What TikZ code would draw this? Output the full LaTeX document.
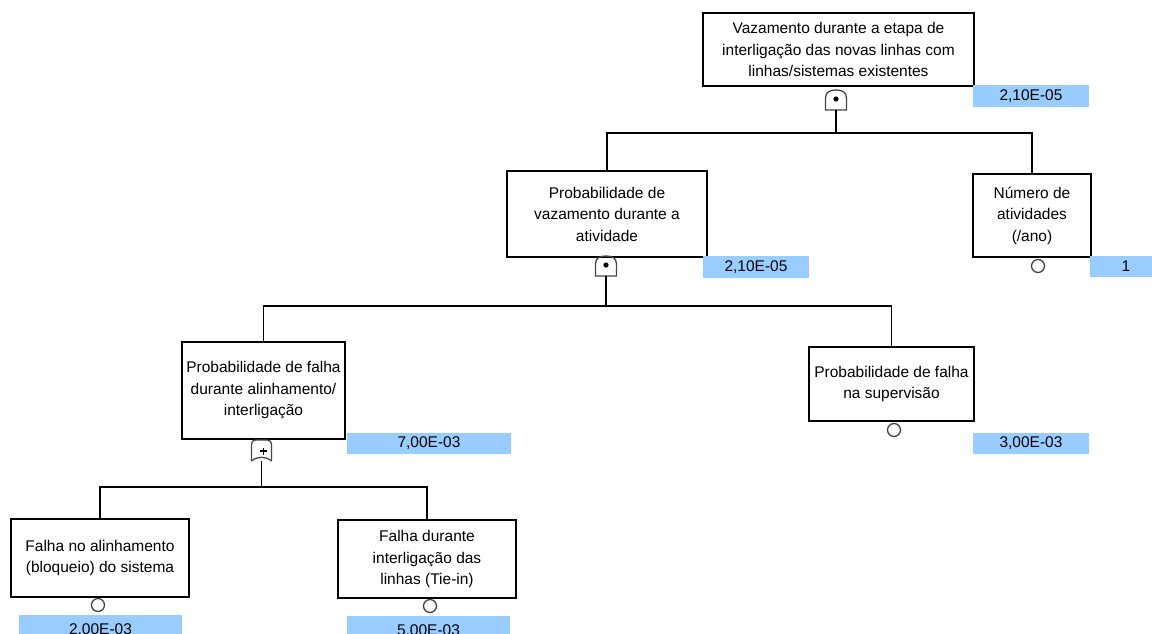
\documentclass[tikz,border=0pt]{standalone}
\usepackage{fontspec}
\setmainfont{Liberation Sans}
\definecolor{valblue}{RGB}{153,204,255}
\definecolor{gategray}{RGB}{70,70,70}
\tikzset{
  evt/.style={draw=black, line width=1.3pt, inner sep=0pt, align=center,
    font=\fontsize{15.5}{21.5}\selectfont},
  val/.style={fill=valblue, inner sep=0pt, font=\fontsize{15.5}{18}\selectfont},
  gatenode/.style={inner sep=0pt, minimum width=22, minimum height=20},
  basic/.style={circle, draw=gategray, line width=1.3pt, minimum size=13, inner sep=0pt},
  conn/.style={draw=black, line width=1.3pt},
  andgate/.pic={
    \draw[gategray, line width=1.3pt] (-10.5,10) -- (-10.5,-2)
      .. controls (-10.5,-8) and (-6,-10) .. (0,-10)
      .. controls (6,-10) and (10.5,-8) .. (10.5,-2) -- (10.5,10) -- cycle;
    \fill[black] (0,-1) circle (2.6);
  },
  orgate/.pic={
    \draw[gategray, line width=1.3pt, rounded corners=4] (10,11) -- (10,-10) -- (-10,-10) -- (-10,11);
    \draw[gategray, line width=1.3pt] (-10,11) .. controls (-4,6) and (4,6) .. (10,11);
    \draw[black, line width=1.2pt] (-1.5,1) -- (5.5,1) (2,-2.5) -- (2,4.5);
  }
}
\begin{document}
\begin{tikzpicture}[x=1pt,y=-1pt]
\useasboundingbox (0,0) rectangle (1152,633);
\clip (0,0) rectangle (1152,633);
\fill[white] (0,0) rectangle (1152,633);

% level 1
\node[evt, minimum width=271, minimum height=73] (T) at (838.5,49.5)
  {Vazamento durante a etapa de\\interligação das novas linhas com\\linhas/sistemas existentes};
\node[val, minimum width=116, minimum height=22] (VT) at (1031,96) {2,10E-05};
\node[gatenode] (g1) at (836,100) {};
\pic at (g1) {andgate};
\coordinate (bar1) at (0,133);

% level 2
\node[evt, minimum width=200, minimum height=86] (P) at (607,214)
  {Probabilidade de\\vazamento durante a\\atividade};
\node[gatenode] (g2) at (606,266) {};
\pic at (g2) {andgate};
\node[val, minimum width=106, minimum height=22] (VP) at (756,267) {2,10E-05};
\coordinate (bar2) at (0,306);

\node[evt, minimum width=118, minimum height=83] (N) at (1032,215.5)
  {Número de\\atividades\\(/ano)};
\node[basic] (cN) at (1038,266) {};
\node[val, minimum width=72, minimum height=21] (VN) at (1126,266.5) {1};

% level 3
\node[evt, minimum width=163, minimum height=97] (A) at (263.5,390.5)
  {Probabilidade de falha\\durante alinhamento/\\interligação};
\node[gatenode, minimum width=21, minimum height=22] (g3) at (261.5,450) {};
\pic at (g3) {orgate};
\node[val, minimum width=164, minimum height=21] (VA) at (429,443.5) {7,00E-03};
\coordinate (bar3) at (0,487);

\node[evt, minimum width=165, minimum height=74] (S) at (891.5,384)
  {Probabilidade de falha\\na supervisão};
\node[basic] (cS) at (894,430) {};
\node[val, minimum width=116, minimum height=21] (VS) at (1031,443.5) {3,00E-03};

% level 4
\node[evt, minimum width=178, minimum height=78] (L) at (100,558)
  {Falha no alinhamento\\(bloqueio) do sistema};
\node[basic] (cL) at (98,605) {};
\node[val, minimum width=163, minimum height=30] (VL) at (100.5,630) {2,00E-03};

\node[evt, minimum width=178, minimum height=78] (R) at (427,559)
  {Falha durante\\interligação das\\linhas (Tie-in)};
\node[basic] (cR) at (430,606) {};
\node[val, minimum width=163, minimum height=30] (VR) at (428.5,631) {5,00E-03};

% connectors
\draw[conn] (g1.south) -- (g1.south |- bar1) -| (P.north);
\draw[conn] (g1.south |- bar1) -| (N.north);
\draw[conn] (g2.south) -- (g2.south |- bar2) -| (A.north);
\draw[conn] (g2.south |- bar2) -| (S.north);
\draw[conn] (g3.south) -- (g3.south |- bar3) -| (L.north);
\draw[conn] (g3.south |- bar3) -| (R.north);
\end{tikzpicture}
\end{document}
